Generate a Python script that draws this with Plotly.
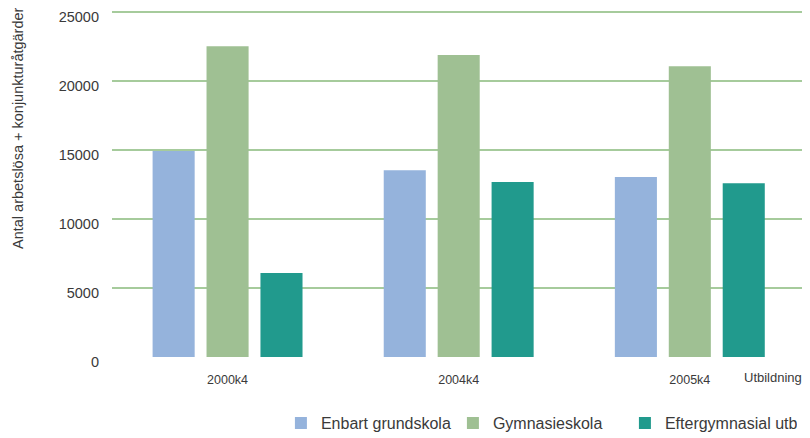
import plotly.graph_objects as go

kvartal = ["2000k4", "2004k4", "2005k4"]
grundskola = [14950, 13550, 13050]
gymnasieskola = [22550, 21900, 21100]
eftergymnasial = [6100, 12700, 12600]

serier = ["Enbart grundskola", "Gymnasieskola", "Eftergymnasial utb"]
farger = ["#95b3dc", "#9fc093", "#219a8d"]

_font = "Liberation Sans, Arial, sans-serif"

fig = go.Figure()

for namn, varden, farg in zip(serier, [grundskola, gymnasieskola, eftergymnasial], farger):
    fig.add_trace(go.Bar(
        x=kvartal,
        y=varden,
        name=namn,
        marker=dict(color=farg, line=dict(width=0)),
    ))

# the page puts the figure 8px in from the top-left corner, so the figure is 8px smaller
fig.update_layout(
    width=802,
    height=430,
    margin=dict(l=104, r=0, t=3, b=81, autoexpand=False),
    plot_bgcolor="white",
    paper_bgcolor="white",
    font=dict(family=_font, size=13, color="#3a3a3a"),
    barmode="group",
    bargap=0.30,
    bargroupgap=0.22,
    showlegend=True,
    legend=dict(
        orientation="h",
        x=0.242,
        xanchor="left",
        y=-0.191,
        yanchor="middle",
        font=dict(size=16, color="#3a3a3a"),
        entrywidth=127,
        entrywidthmode="pixels",
        tracegroupgap=0,
    ),
    xaxis=dict(
        range=[-0.5, 2.52],
        showgrid=False,
        showline=False,
        ticks="",
        ticklabelstandoff=13,
        tickfont=dict(size=12.5),
    ),
    yaxis=dict(
        range=[0, 25100],
        tickvals=[0, 5000, 10000, 15000, 20000, 25000],
        tickformat="d",
        ticklabeloverflow="allow",
        ticklabelshift=5,
        showgrid=True,
        gridcolor="#a6cb9c",
        gridwidth=1.5,
        zeroline=False,
        showline=False,
        ticks="",
        ticklabelstandoff=12,
        tickfont=dict(size=14.5),
    ),
    annotations=[
        dict(
            text="Antal arbetslösa + konjunkturåtgärder",
            xref="paper", yref="paper",
            x=(10 - 104) / 698, y=(349 - 120) / 346,
            xanchor="center", yanchor="middle",
            textangle=-90,
            showarrow=False,
            font=dict(size=14.5),
        ),
        dict(
            text="Utbildning",
            xref="paper", yref="paper",
            x=1.0 - 6 / 698, y=-0.058,
            xanchor="right", yanchor="middle",
            showarrow=False,
            font=dict(size=13),
        ),
    ],
)

fig.write_html("out.html")
